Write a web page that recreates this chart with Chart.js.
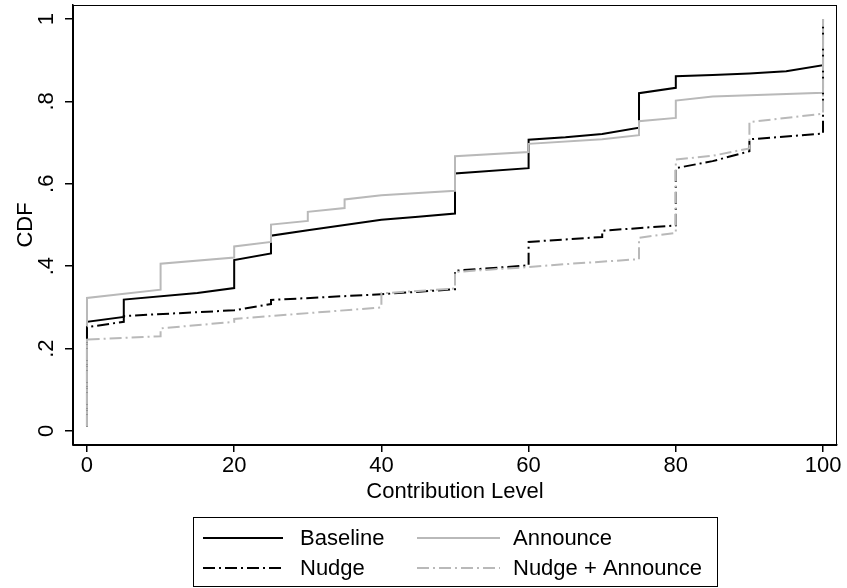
<!DOCTYPE html>
<html>
<head>
<meta charset="utf-8">
<script src="https://cdn.jsdelivr.net/npm/chart.js@4/dist/chart.umd.min.js"></script>
<style>
  html, body { margin: 0; padding: 0; background: #fff; }
  #wrap { width: 847px; height: 588px; position: relative; }
</style>
</head>
<body>
<div id="wrap"><canvas id="cdf-chart"></canvas></div>
<script>
// tick labels
const xTickValues = [0, 20, 40, 60, 80, 100];
const yTickValues = [0, 0.2, 0.4, 0.6, 0.8, 1];
const yTickLabels = ['0', '.2', '.4', '.6', '.8', '1'];

// series
const baselineX = [0, 0, 5, 5, 15, 20, 20, 25, 25, 30, 35, 40, 45, 50, 50, 60, 60, 65, 70, 75, 75, 80, 80, 85, 90, 95, 100, 100];
const baselineY = [0.01, 0.265, 0.277, 0.319, 0.335, 0.347, 0.415, 0.431, 0.474, 0.487, 0.5, 0.513, 0.52, 0.528, 0.625, 0.638, 0.707, 0.713, 0.721, 0.736, 0.82, 0.833, 0.861, 0.864, 0.868, 0.873, 0.888, 1];

const announceX = [0, 0, 10, 10, 20, 20, 25, 25, 30, 30, 35, 35, 40, 50, 50, 60, 60, 70, 75, 75, 80, 80, 85, 100, 100];
const announceY = [0.01, 0.323, 0.343, 0.406, 0.421, 0.448, 0.459, 0.501, 0.51, 0.532, 0.541, 0.562, 0.572, 0.583, 0.667, 0.677, 0.697, 0.708, 0.718, 0.752, 0.76, 0.802, 0.812, 0.821, 1];

const nudgeX = [0, 0, 5, 5, 20, 25, 25, 40, 50, 50, 60, 60, 70, 70, 80, 80, 85, 90, 90, 100, 100];
const nudgeY = [0.01, 0.252, 0.265, 0.279, 0.293, 0.308, 0.318, 0.332, 0.344, 0.389, 0.402, 0.459, 0.471, 0.486, 0.499, 0.638, 0.655, 0.679, 0.708, 0.722, 1];

const nudgeAnnX = [0, 0, 10, 10, 20, 20, 40, 40, 50, 50, 60, 65, 75, 75, 80, 80, 85, 90, 90, 100, 100];
const nudgeAnnY = [0.01, 0.222, 0.23, 0.249, 0.265, 0.272, 0.3, 0.334, 0.346, 0.386, 0.398, 0.405, 0.417, 0.469, 0.481, 0.659, 0.668, 0.686, 0.75, 0.77, 1];

const seriesNames = ['Baseline', 'Announce', 'Nudge', 'Nudge + Announce'];

const FONT = '"Liberation Sans", Arial, sans-serif';
const GRAY = '#b9b9b9';
const DASHDOT = [12, 4, 2, 4];

function toPoints(xs, ys) {
    return xs.map((x, i) => ({ x: x, y: ys[i] }));
}

const styles = [
    { color: '#000', dash: [] },
    { color: GRAY, dash: [] },
    { color: '#000', dash: DASHDOT },
    { color: GRAY, dash: DASHDOT }
];

const allData = [
    toPoints(baselineX, baselineY),
    toPoints(announceX, announceY),
    toPoints(nudgeX, nudgeY),
    toPoints(nudgeAnnX, nudgeAnnY)
];

const datasets = allData.map((pts, i) => ({
    label: seriesNames[i],
    data: pts,
    borderColor: styles[i].color,
    borderDash: styles[i].dash,
    borderWidth: 2,
    pointRadius: 0,
    tension: 0,
    fill: false,
    order: 4 - i
}));

// texte extra: labels y tournés, titres des axes, légende en bas
const extrasPlugin = {
    id: 'extras',
    afterDraw(chart) {
        const ctx = chart.ctx;
        const area = chart.chartArea;
        const yScale = chart.scales.y;
        ctx.save();

        // cadre du plot
        ctx.strokeStyle = '#000';
        ctx.lineWidth = 1;
        ctx.strokeRect(area.left + 0.5, area.top + 0.5, area.right - area.left - 1, area.bottom - area.top);

        ctx.fillStyle = '#000';
        ctx.font = '22px ' + FONT;

        // labels de l'axe y (rotation 90°)
        yTickValues.forEach((v, i) => {
            const py = yScale.getPixelForValue(v);
            ctx.save();
            ctx.translate(53, py);
            ctx.rotate(-Math.PI / 2);
            ctx.textAlign = 'center';
            ctx.textBaseline = 'alphabetic';
            ctx.fillText(yTickLabels[i], 0, 0);
            ctx.restore();
        });

        // titre y
        ctx.save();
        ctx.translate(32, (area.top + area.bottom) / 2);
        ctx.rotate(-Math.PI / 2);
        ctx.textAlign = 'center';
        ctx.textBaseline = 'alphabetic';
        ctx.fillText('CDF', 0, 0);
        ctx.restore();

        // titre x
        ctx.textAlign = 'center';
        ctx.textBaseline = 'alphabetic';
        ctx.fillText('Contribution Level', (area.left + area.right) / 2, 498);

        // légende (centrée sous le graphique)
        ctx.lineWidth = 1;
        ctx.strokeRect(193.5, 517.5, 524, 69);
        const cols = [{ x0: 203, x1: 283, tx: 300 }, { x0: 417, x1: 500, tx: 513 }];
        const rows = [538, 568];
        seriesNames.forEach((name, i) => {
            const c = cols[i % 2];
            const r = rows[Math.floor(i / 2)];
            ctx.beginPath();
            ctx.setLineDash(styles[i].dash);
            ctx.strokeStyle = styles[i].color;
            ctx.lineWidth = 2;
            ctx.moveTo(c.x0, r);
            ctx.lineTo(c.x1, r);
            ctx.stroke();
            ctx.setLineDash([]);
            ctx.textAlign = 'left';
            ctx.textBaseline = 'middle';
            ctx.fillStyle = '#000';
            ctx.fillText(name, c.tx, r + 1);
        });

        ctx.restore();
    }
};

new Chart(document.getElementById('cdf-chart'), {
    type: 'line',
    data: { datasets: datasets },
    options: {
        responsive: true,
        maintainAspectRatio: false,
        animation: false,
        layout: { padding: { top: 5, right: 10, left: 0, bottom: 0 } },
        plugins: {
            legend: { display: false },
            tooltip: { enabled: false }
        },
        scales: {
            x: {
                type: 'linear',
                min: -1.9,
                max: 101.9,
                afterBuildTicks(scale) {
                    scale.ticks = xTickValues.map(v => ({ value: v }));
                },
                afterFit(scale) {
                    scale.height = 143;
                },
                grid: {
                    drawOnChartArea: false,
                    drawTicks: true,
                    tickLength: 7,
                    color: '#000',
                    lineWidth: 1.5
                },
                border: { display: true, color: '#000', width: 1.5 },
                ticks: {
                    color: '#000',
                    padding: 1,
                    maxRotation: 0,
                    font: { family: FONT, size: 22 },
                    callback: (v) => String(v)
                }
            },
            y: {
                type: 'linear',
                min: -0.034,
                max: 1.034,
                afterBuildTicks(scale) {
                    scale.ticks = yTickValues.map(v => ({ value: v }));
                },
                afterFit(scale) {
                    scale.width = 73;
                },
                grid: {
                    drawOnChartArea: false,
                    drawTicks: true,
                    tickLength: 8,
                    color: '#000',
                    lineWidth: 1.5
                },
                border: { display: true, color: '#000', width: 1.5 },
                ticks: { display: false }
            }
        }
    },
    plugins: [extrasPlugin]
});
</script>
</body>
</html>
